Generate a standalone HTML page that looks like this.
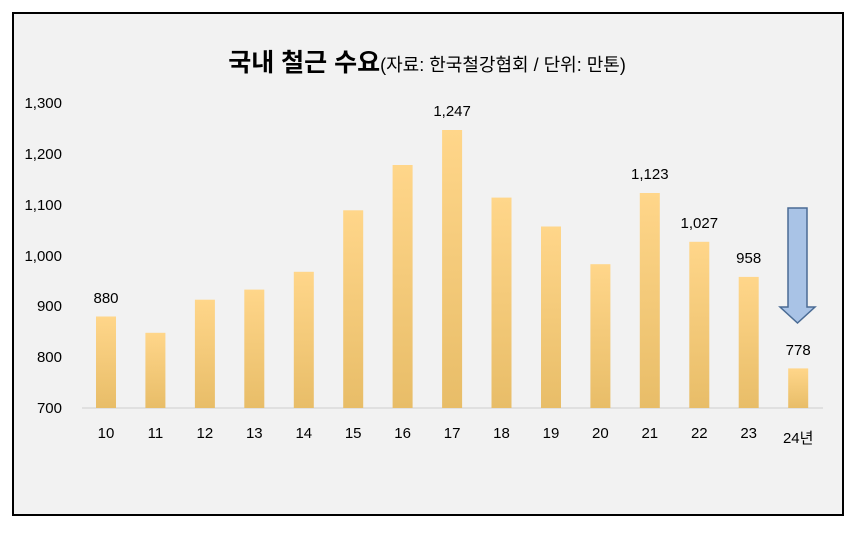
<!DOCTYPE html>
<html><head><meta charset="utf-8"><style>
body{margin:0;background:#fff}
svg text{font-family:"Liberation Sans","Noto Sans CJK KR",sans-serif;fill:#000}
</style></head><body>
<svg width="863" height="533" xmlns="http://www.w3.org/2000/svg">
<defs><linearGradient id="g" x1="0" y1="0" x2="0" y2="1"><stop offset="0" stop-color="#ffd68a"/><stop offset="1" stop-color="#e8bd68"/></linearGradient></defs>
<rect x="13" y="13" width="830" height="502" fill="#f2f2f2" stroke="#000" stroke-width="2"/>
<text x="427" y="71" text-anchor="middle"><tspan font-size="25" font-weight="bold">국내 철근 수요</tspan><tspan font-size="18">(자료: 한국철강협회 / 단위: 만톤)</tspan></text>
<g font-size="15" text-anchor="end">
<text x="62" y="108">1,300</text><text x="62" y="159">1,200</text><text x="62" y="210">1,100</text><text x="62" y="261">1,000</text><text x="62" y="311">900</text><text x="62" y="362">800</text><text x="62" y="413">700</text>
</g>
<line x1="82" y1="408" x2="823" y2="408" stroke="#d9d9d9" stroke-width="1.5"/>
<g fill="url(#g)">
<rect x="96" y="316.5" width="20" height="91.5"/>
<rect x="145.4" y="332.8" width="20" height="75.2"/>
<rect x="194.9" y="299.7" width="20" height="108.3"/>
<rect x="244.3" y="289.6" width="20" height="118.4"/>
<rect x="293.8" y="271.8" width="20" height="136.2"/>
<rect x="343.2" y="210.3" width="20" height="197.7"/>
<rect x="392.6" y="165" width="20" height="243"/>
<rect x="442.1" y="130" width="20" height="278"/>
<rect x="491.5" y="197.6" width="20" height="210.4"/>
<rect x="541" y="226.5" width="20" height="181.5"/>
<rect x="590.4" y="264.2" width="20" height="143.8"/>
<rect x="639.8" y="193" width="20" height="215"/>
<rect x="689.3" y="241.8" width="20" height="166.2"/>
<rect x="738.7" y="276.9" width="20" height="131.1"/>
<rect x="788.2" y="368.4" width="20" height="39.6"/>
</g>
<g font-size="15" text-anchor="middle">
<text x="106" y="438">10</text><text x="155.4" y="438">11</text><text x="204.9" y="438">12</text><text x="254.3" y="438">13</text><text x="303.8" y="438">14</text><text x="353.2" y="438">15</text><text x="402.6" y="438">16</text><text x="452.1" y="438">17</text><text x="501.5" y="438">18</text><text x="551" y="438">19</text><text x="600.4" y="438">20</text><text x="649.8" y="438">21</text><text x="699.3" y="438">22</text><text x="748.7" y="438">23</text><text x="798.2" y="443">24년</text>
<text x="106" y="303">880</text>
<text x="452.1" y="116">1,247</text>
<text x="649.8" y="179">1,123</text>
<text x="699.3" y="228">1,027</text>
<text x="748.7" y="263">958</text>
<text x="798.2" y="355">778</text>
</g>
<path d="M788 208H807V307H815L797.5 323L780 307H788Z" fill="#a9c3e6" stroke="#4a6b94" stroke-width="1.5"/>
</svg>
</body></html>
